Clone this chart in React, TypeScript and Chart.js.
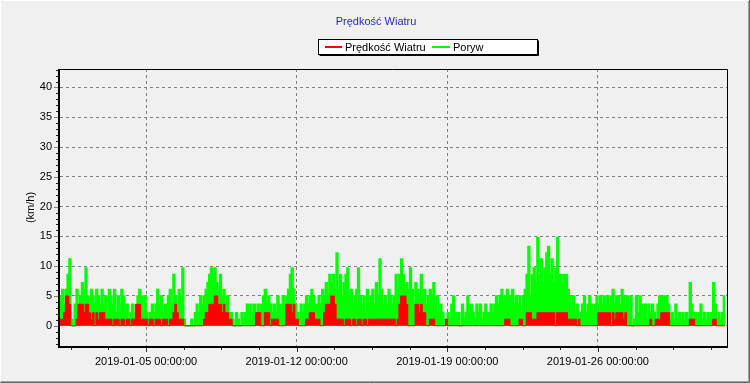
import React, { useEffect, useRef } from "react";
import { Chart, registerables } from "chart.js";

Chart.register(...registerables);

// ---------- data ----------
const CHART_TITLE = "Prędkość Wiatru";
const SERIES_LABELS = ["Prędkość Wiatru", "Poryw"];
const SERIES_COLORS = ["#ff0000", "#00ff00"];
const Y_AXIS_TITLE = "(km/h)";
// hours since 2019-01-01 00:00
const X_TICK_HOURS = [96, 264, 432, 600];
const X_TICK_LABELS = [
  "2019-01-05 00:00:00",
  "2019-01-12 00:00:00",
  "2019-01-19 00:00:00",
  "2019-01-26 00:00:00",
];
const Y_TICK_VALUES = [0, 5, 10, 15, 20, 25, 30, 35, 40];
const X_MIN = 0;
const X_MAX = 744;
const Y_MIN = -3.4;
const Y_MAX = 43.1;
const SAMPLE_STEP_HOURS = 2;

// wind speed (km/h), one row per day, 2-hour samples
const windSpeed: number[] = [
  1.1, 1.1, 1.1, 2.2, 5, 5, 3.6, 0, 0, 0, 1.1, 3.6,
  3.6, 3.6, 2.2, 3.6, 3.6, 2.2, 1.1, 2.2, 0, 2.2, 1.1, 2.2,
  2.2, 2.2, 1.1, 1.1, 1.1, 1.1, 0, 1.1, 1.1, 1.1, 0, 1.1,
  1.1, 0, 1.1, 1.1, 0, 1.1, 1.1, 3.6, 3.6, 3.6, 1.1, 1.1,
  1.1, 1.1, 0, 1.1, 1.1, 0, 1.1, 1.1, 1.1, 0, 1.1, 1.1,
  1.1, 0, 1.1, 1.1, 2.2, 3.6, 2.2, 1.1, 1.1, 1.1, 0, 0,
  0, 0, 0, 0, 0, 0, 0, 0, 0, 1.1, 2.2, 2.2,
  3.6, 3.6, 3.6, 5, 5, 3.6, 3.6, 2.2, 3.6, 2.2, 2.2, 1.1,
  1.1, 0, 0, 0, 0, 0, 0, 0, 0, 0, 0, 0,
  0, 0, 2.2, 2.2, 2.2, 0, 0, 2.2, 2.2, 2.2, 0, 1.1,
  1.1, 1.1, 1.1, 0, 0, 0, 0, 3.6, 3.6, 3.6, 2.2, 3.6,
  1.1, 1.1, 0, 0, 0, 0, 1.1, 1.1, 2.2, 2.2, 2.2, 1.1,
  1.1, 1.1, 0, 0, 2.2, 3.6, 3.6, 3.6, 5, 5, 3.6, 1.1,
  1.1, 1.1, 1.1, 0, 1.1, 1.1, 1.1, 0, 1.1, 1.1, 0, 1.1,
  1.1, 0, 1.1, 1.1, 0, 1.1, 1.1, 1.1, 1.1, 1.1, 1.1, 1.1,
  1.1, 1.1, 1.1, 1.1, 1.1, 1.1, 1.1, 1.1, 0, 1.1, 3.6, 5,
  5, 5, 3.6, 0, 0, 0, 0, 3.6, 3.6, 2.2, 3.6, 2.2,
  2.2, 0, 0, 1.1, 1.1, 1.1, 0, 0, 0, 0, 0, 0,
  1.1, 0, 0, 0, 0, 0, 0, 0, 0, 0, 0, 0,
  0, 0, 0, 0, 0, 0, 0, 0, 0, 0, 0, 0,
  0, 0, 0, 0, 0, 0, 0, 0, 0, 1.1, 1.1, 1.1,
  0, 0, 0, 0, 0, 1.1, 1.1, 0, 0, 2.2, 2.2, 2.2,
  1.1, 1.1, 1.1, 2.2, 2.2, 2.2, 2.2, 2.2, 2.2, 2.2, 2.2, 2.2,
  2.2, 0, 2.2, 2.2, 2.2, 2.2, 2.2, 2.2, 1.1, 1.1, 1.1, 1.1,
  1.1, 0, 1.1, 0, 0, 0, 0, 0, 0, 0, 0, 0,
  0, 2.2, 2.2, 2.2, 2.2, 2.2, 2.2, 2.2, 0, 2.2, 1.1, 2.2,
  2.2, 2.2, 2.2, 1.1, 2.2, 0, 0, 0, 0, 0, 0, 0,
  0, 0, 0, 0, 0, 0, 1.1, 0, 0, 1.1, 1.1, 1.1,
  2.2, 2.2, 2.2, 2.2, 2.2, 0, 0, 0, 0, 0, 0, 0,
  0, 0, 0, 0, 1.1, 1.1, 1.1, 0, 0, 0, 0, 0,
  0, 0, 0, 0, 0, 1.1, 1.1, 0, 0, 0, 0, 0,
];

// gusts (km/h), one row per day, 2-hour samples
const gust: number[] = [
  2.2, 5, 6.1, 3.6, 6.1, 8.6, 11.2, 1.1, 0, 3.6, 6.1, 3.6,
  5, 7.2, 6.1, 9.7, 5, 3.6, 6.1, 5, 3.6, 6.1, 5, 3.6,
  6.1, 3.6, 5, 2.2, 6.1, 5, 3.6, 6.1, 2.2, 5, 3.6, 6.1,
  5, 2.2, 3.6, 1.1, 2.2, 3.6, 1.1, 2.2, 5, 6.1, 5, 2.2,
  5, 2.2, 1.1, 2.2, 3.6, 2.2, 3.6, 6.1, 3.6, 5, 2.2, 3.6,
  3.6, 5, 6.1, 3.6, 8.6, 5, 3.6, 6.1, 5, 9.7, 1.1, 0,
  0, 0, 1.1, 0, 2.2, 3.6, 2.2, 5, 3.6, 5, 6.1, 7.2,
  8.6, 9.7, 8.6, 9.7, 7.2, 6.1, 8.6, 5, 6.1, 3.6, 5, 2.2,
  2.2, 1.1, 0, 2.2, 1.1, 0, 2.2, 1.1, 2.2, 3.6, 2.2, 3.6,
  2.2, 3.6, 2.2, 3.6, 2.2, 3.6, 5, 6.1, 3.6, 5, 3.6, 2.2,
  3.6, 2.2, 5, 3.6, 2.2, 5, 3.6, 5, 6.1, 8.6, 9.7, 6.1,
  3.6, 2.2, 1.1, 3.6, 2.2, 3.6, 5, 3.6, 5, 6.1, 5, 3.6,
  3.6, 5, 3.6, 6.1, 5, 7.2, 5, 8.6, 7.2, 8.6, 6.1, 12.2,
  6.1, 8.6, 5, 7.2, 8.6, 9.7, 5, 6.1, 3.6, 5, 6.1, 9.7,
  5, 3.6, 5, 2.2, 6.1, 3.6, 5, 6.1, 3.6, 7.2, 5, 11.2,
  6.1, 3.6, 5, 3.6, 6.1, 5, 3.6, 5, 8.6, 6.1, 8.6, 11.2,
  8.6, 6.1, 7.2, 6.1, 9.7, 6.1, 3.6, 7.2, 6.1, 5, 8.6, 5,
  6.1, 3.6, 5, 6.1, 5, 7.2, 3.6, 5, 2.2, 3.6, 2.2, 1.1,
  1.1, 2.2, 1.1, 3.6, 5, 2.2, 1.1, 2.2, 0, 3.6, 1.1, 2.2,
  5, 2.2, 3.6, 2.2, 1.1, 3.6, 2.2, 3.6, 1.1, 2.2, 3.6, 2.2,
  2.2, 3.6, 2.2, 3.6, 5, 3.6, 5, 6.1, 3.6, 5, 6.1, 5,
  5, 6.1, 3.6, 5, 3.6, 5, 2.2, 5, 6.1, 8.6, 13.3, 5,
  8.6, 9.7, 7.2, 14.8, 8.6, 11.2, 7.2, 9.7, 12.2, 13.3, 8.6, 11.2,
  7.2, 9.7, 14.8, 8.6, 8.6, 7.2, 8.6, 8.6, 6.1, 5, 3.6, 5,
  2.2, 3.6, 1.1, 2.2, 3.6, 5, 2.2, 3.6, 5, 3.6, 2.2, 3.6,
  5, 3.6, 5, 3.6, 5, 3.6, 5, 3.6, 5, 6.1, 3.6, 5,
  5, 3.6, 6.1, 5, 3.6, 5, 2.2, 5, 0, 1.1, 5, 2.2,
  5, 3.6, 2.2, 3.6, 1.1, 3.6, 2.2, 3.6, 2.2, 1.1, 3.6, 5,
  5, 5, 5, 5, 3.6, 1.1, 2.2, 1.1, 3.6, 1.1, 2.2, 1.1,
  2.2, 1.1, 2.2, 1.1, 7.2, 3.6, 1.1, 2.2, 1.1, 2.2, 3.6, 1.1,
  2.2, 1.1, 2.2, 1.1, 2.2, 7.2, 3.6, 1.1, 2.2, 1.1, 2.2, 5,
];

// ---------- styling ----------
const FONT = "'Liberation Sans', Arial, sans-serif";
const BG = "#f0f0f0";

const toPoints = (vals: number[]) =>
  vals.map((v, i) => ({ x: i * SAMPLE_STEP_HOURS, y: v }));

const decorPlugin = {
  id: "decor",
  beforeDraw(chart: any) {
    const ctx = chart.ctx;
    ctx.save();
    ctx.fillStyle = BG;
    ctx.fillRect(0, 0, chart.width, chart.height);
    ctx.restore();
  },
  afterDatasetsDraw(chart: any) {
    const { ctx, chartArea: a, scales } = chart;
    const xs = scales.x;
    const ys = scales.y;
    ctx.save();
    ctx.strokeStyle = "#000";
    ctx.lineWidth = 1;
    ctx.beginPath();
    ctx.moveTo(a.left, a.top + 0.5);
    ctx.lineTo(a.right + 0.5, a.top + 0.5);
    ctx.lineTo(a.right + 0.5, a.bottom);
    ctx.stroke();
    ctx.lineWidth = 2;
    ctx.beginPath();
    ctx.moveTo(a.left - 1, a.top);
    ctx.lineTo(a.left - 1, a.bottom + 1);
    ctx.lineTo(a.right + 1, a.bottom + 1);
    ctx.stroke();

    ctx.lineWidth = 1;
    for (let v = Math.ceil(Y_MIN); v <= Math.floor(Y_MAX); v++) {
      const py = Math.round(ys.getPixelForValue(v)) + 0.5;
      const major = v % 5 === 0 && v >= 0 && v <= 40;
      ctx.strokeStyle = major ? "#808080" : "#202020";
      ctx.beginPath();
      ctx.moveTo(a.left - (major ? 6 : 4), py);
      ctx.lineTo(a.left - 2, py);
      ctx.stroke();
    }
    ctx.strokeStyle = "#303030";
    const minorStep = (X_TICK_HOURS[1] - X_TICK_HOURS[0]) / 4;
    let start = X_TICK_HOURS[0];
    while (start - minorStep >= X_MIN) start -= minorStep;
    for (let h = start; h <= X_MAX; h += minorStep) {
      const px = Math.round(xs.getPixelForValue(h)) + 0.5;
      const major = X_TICK_HOURS.some((t) => Math.abs(t - h) < 1e-6);
      ctx.beginPath();
      ctx.moveTo(px, a.bottom + 2);
      ctx.lineTo(px, a.bottom + (major ? 6 : 4));
      ctx.stroke();
    }
    ctx.restore();
  },
  afterDraw(chart: any) {
    const { ctx, chartArea: a } = chart;
    ctx.save();
    ctx.font = `11px ${FONT}`;
    ctx.fillStyle = "#2828c8";
    ctx.textAlign = "center";
    ctx.textBaseline = "middle";
    ctx.fillText(CHART_TITLE, 376, 22);

    const lx = 318.5, ly = 39.5, lw = 219, lh = 15;
    ctx.fillStyle = "#ffffff";
    ctx.fillRect(lx, ly, lw, lh);
    ctx.strokeStyle = "#000";
    ctx.lineWidth = 1;
    ctx.strokeRect(lx, ly, lw, lh);
    ctx.beginPath();
    ctx.moveTo(lx + 1, ly + lh + 1);
    ctx.lineTo(lx + lw + 1, ly + lh + 1);
    ctx.lineTo(lx + lw + 1, ly + 1);
    ctx.stroke();

    const entries = [
      { x0: 325, x1: 342, tx: 345 },
      { x0: 432, x1: 450, tx: 453 },
    ];
    ctx.textAlign = "left";
    ctx.font = `11px ${FONT}`;
    entries.forEach((e, i) => {
      ctx.strokeStyle = SERIES_COLORS[i];
      ctx.lineWidth = 2;
      ctx.beginPath();
      ctx.moveTo(e.x0, 47);
      ctx.lineTo(e.x1, 47);
      ctx.stroke();
      ctx.fillStyle = "#000";
      ctx.fillText(SERIES_LABELS[i], e.tx, 47.5);
    });

    ctx.save();
    ctx.translate(31, (a.top + a.bottom) / 2);
    ctx.rotate(-Math.PI / 2);
    ctx.textAlign = "center";
    ctx.textBaseline = "middle";
    ctx.fillStyle = "#000";
    ctx.fillText(Y_AXIS_TITLE, 0, 0);
    ctx.restore();

    ctx.lineWidth = 1;
    ctx.strokeStyle = "#ffffff";
    ctx.beginPath();
    ctx.moveTo(0.5, chart.height - 1);
    ctx.lineTo(0.5, 0.5);
    ctx.lineTo(chart.width - 1, 0.5);
    ctx.stroke();
    ctx.strokeStyle = "#a0a0a0";
    ctx.beginPath();
    ctx.moveTo(chart.width - 1.5, 1);
    ctx.lineTo(chart.width - 1.5, chart.height - 1.5);
    ctx.lineTo(1, chart.height - 1.5);
    ctx.stroke();
    ctx.strokeStyle = "#696969";
    ctx.beginPath();
    ctx.moveTo(chart.width - 0.5, 0);
    ctx.lineTo(chart.width - 0.5, chart.height - 0.5);
    ctx.lineTo(0, chart.height - 0.5);
    ctx.stroke();
    ctx.restore();
  },
};

export default function App() {
  const canvasRef = useRef<HTMLCanvasElement | null>(null);

  useEffect(() => {
    const canvas = canvasRef.current;
    if (!canvas) return;
    const chart = new Chart(canvas, {
      type: "line",
      data: {
        datasets: [
          {
            label: SERIES_LABELS[0],
            data: toPoints(windSpeed),
            borderColor: SERIES_COLORS[0],
            backgroundColor: SERIES_COLORS[0],
            borderWidth: 1,
            pointRadius: 0,
            stepped: "after",
            fill: "origin",
          },
          {
            label: SERIES_LABELS[1],
            data: toPoints(gust),
            borderColor: SERIES_COLORS[1],
            backgroundColor: SERIES_COLORS[1],
            borderWidth: 1.5,
            pointRadius: 0,
            stepped: "after",
            fill: "origin",
          },
        ],
      },
      options: {
        responsive: false,
        animation: false,
        devicePixelRatio: 1,
        layout: { padding: { top: 69, right: 23, bottom: 0, left: 0 } },
        plugins: {
          legend: { display: false },
          title: { display: false },
          tooltip: { enabled: false },
        },
        events: [],
        scales: {
          x: {
            type: "linear",
            min: X_MIN,
            max: X_MAX,
            afterBuildTicks: (s: any) => {
              s.ticks = X_TICK_HOURS.map((v) => ({ value: v }));
            },
            afterFit: (s: any) => {
              s.height = 37;
            },
            ticks: {
              autoSkip: false,
              maxRotation: 0,
              padding: 9,
              color: "#000",
              font: { family: FONT, size: 11 },
              callback: (v: any) => {
                const i = X_TICK_HOURS.indexOf(Number(v));
                return i >= 0 ? X_TICK_LABELS[i] : "";
              },
            },
            grid: { color: "#808080", lineWidth: 1, drawTicks: false },
            border: { display: false, dash: [3, 3] },
          },
          y: {
            type: "linear",
            min: Y_MIN,
            max: Y_MAX,
            afterBuildTicks: (s: any) => {
              s.ticks = Y_TICK_VALUES.map((v) => ({ value: v }));
            },
            afterFit: (s: any) => {
              s.width = 60;
            },
            ticks: {
              padding: 8,
              color: "#000",
              font: { family: FONT, size: 11 },
              callback: (v: any) => String(v),
            },
            grid: { color: "#808080", lineWidth: 1, drawTicks: false },
            border: { display: false, dash: [3, 3] },
          },
        },
      },
      plugins: [decorPlugin],
    } as any);
    return () => chart.destroy();
  }, []);

  return (
    <div style={{ position: "absolute", left: 0, top: 0, width: 750, height: 383, background: BG }}>
      <canvas ref={canvasRef} width={750} height={383} style={{ display: "block", width: 750, height: 383 }} />
    </div>
  );
}
